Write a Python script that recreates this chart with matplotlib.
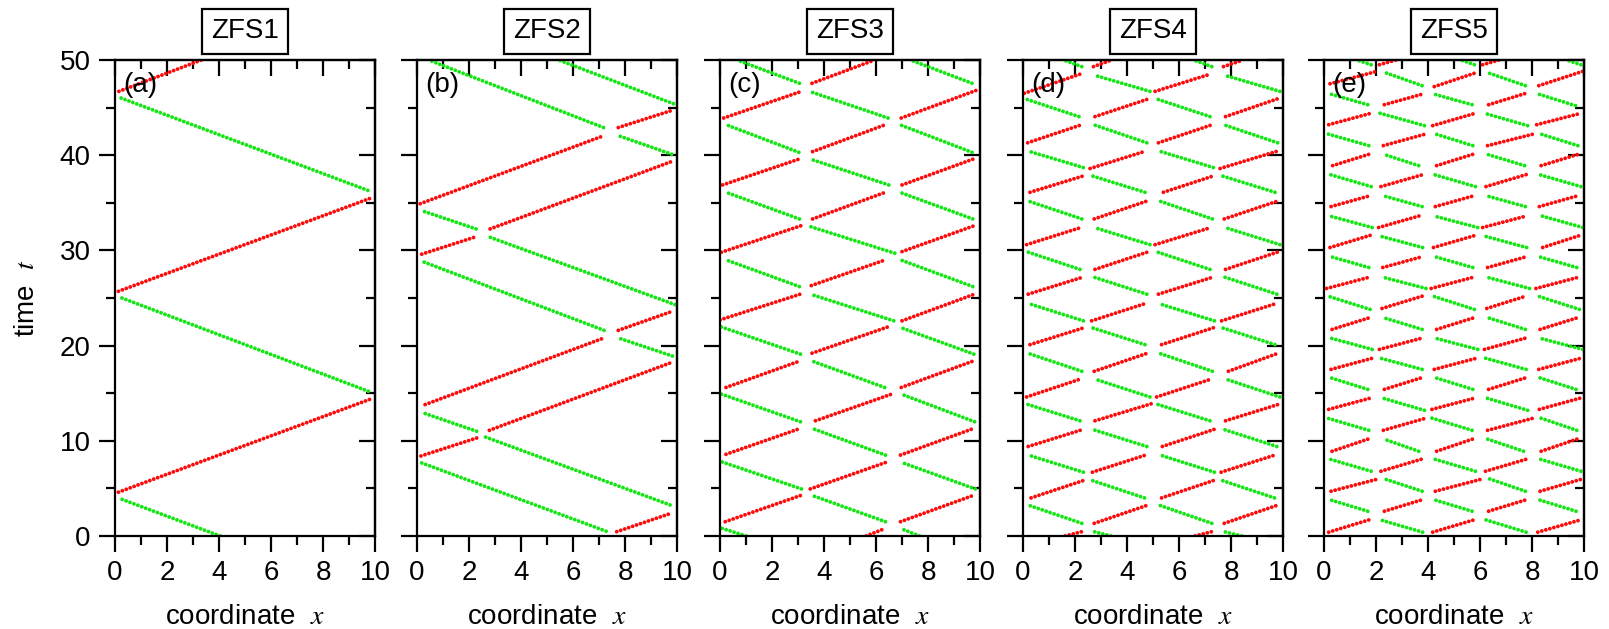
import matplotlib
matplotlib.use('Agg')
import matplotlib.pyplot as plt
from matplotlib.patches import Rectangle
from matplotlib.ticker import MultipleLocator

plt.rcParams['font.family'] = ['Liberation Sans', 'DejaVu Sans']
plt.rcParams['mathtext.fontset'] = 'stix'
plt.rcParams['lines.scale_dashes'] = False

# segments are (x_start, t_start, x_end, t_end); red = moving right, green = moving left
red_a = [(0.13, 4.6, 9.85, 14.4), (0.13, 25.7, 9.85, 35.5), (0.15, 46.7, 3.33, 50.0)]
green_a = [(4.04, 0.0, 0.26, 3.85), (9.74, 15.2, 0.26, 25.0), (9.72, 36.3, 0.23, 46.0)]

red_b = [
    (7.68, 0.45, 9.79, 2.4), (0.15, 8.4, 2.42, 10.4), (2.78, 11.1, 9.86, 18.3),
    (0.31, 13.8, 7.19, 20.8), (7.74, 21.6, 9.82, 23.6), (0.18, 29.6, 2.23, 31.4),
    (2.81, 32.25, 9.86, 39.4), (0.12, 34.9, 7.19, 42.05), (7.74, 42.9, 9.86, 44.75),
]
green_b = [
    (7.27, 0.5, 0.15, 7.7), (9.73, 3.26, 2.62, 10.4), (2.29, 11.0, 0.21, 12.95),
    (9.82, 18.9, 7.74, 20.8), (7.19, 21.6, 0.14, 28.9), (9.92, 24.3, 2.78, 31.4),
    (2.27, 32.25, 0.15, 34.2), (9.79, 40.1, 7.74, 42.05), (7.17, 42.9, 0.44, 50.0),
    (9.86, 45.4, 5.44, 50.0),
]

red_c = [
    (5.62, 0.0, 6.36, 0.8), (0.2, 1.5, 3.09, 4.24), (6.94, 1.5, 9.72, 4.24),
    (3.47, 4.94, 6.4, 7.75), (0.23, 8.58, 3.09, 11.3), (6.94, 8.5, 9.76, 11.3),
    (3.67, 12.1, 6.6, 14.9), (0.23, 15.6, 3.09, 18.4), (6.97, 15.6, 9.76, 18.4),
    (3.54, 19.2, 6.5, 22.0), (0.0, 22.7, 3.09, 25.4), (7.0, 22.6, 9.79, 25.4),
    (3.51, 26.3, 6.36, 29.0), (0.05, 29.8, 3.13, 32.6), (7.0, 29.87, 9.79, 32.6),
    (3.56, 33.3, 6.36, 36.1), (0.1, 36.87, 3.13, 39.67), (7.0, 36.87, 9.82, 39.67),
    (3.56, 40.37, 6.36, 43.2), (0.14, 43.9, 3.13, 46.7), (6.97, 43.9, 9.85, 46.8),
    (3.54, 47.55, 5.95, 50.0),
]
green_c = [
    (1.0, 0.0, 0.08, 0.8), (7.67, 0.0, 6.94, 0.8), (6.36, 1.5, 3.56, 4.24),
    (3.13, 4.94, 0.05, 7.8), (9.82, 4.94, 6.97, 7.74), (6.36, 8.5, 3.54, 11.3),
    (3.09, 12.0, 0.05, 14.9), (9.79, 12.0, 6.97, 14.9), (6.33, 15.6, 3.51, 18.4),
    (3.09, 19.1, 0.0, 22.0), (9.76, 19.1, 6.94, 21.9), (6.68, 22.6, 3.47, 25.4),
    (3.05, 26.2, 0.23, 29.0), (9.72, 26.2, 6.94, 29.0), (6.72, 29.7, 3.47, 32.5),
    (3.05, 33.3, 0.23, 36.1), (9.72, 33.3, 6.91, 36.1), (6.49, 36.87, 3.46, 39.6),
    (3.03, 40.3, 0.23, 43.2), (9.69, 40.3, 6.91, 43.2), (6.46, 43.9, 3.44, 46.7),
    (3.05, 47.55, 0.65, 50.0), (9.69, 47.55, 7.32, 50.0),
]

red_d = [
    (1.62, 0.0, 2.26, 0.45), (6.62, 0.0, 7.26, 0.45), (2.74, 1.33, 4.82, 3.26),
    (7.74, 1.33, 9.82, 3.26), (0.31, 4.0, 2.41, 5.9), (5.33, 4.0, 7.41, 5.9),
    (2.67, 6.7, 4.72, 8.5), (7.62, 6.7, 9.69, 8.5), (0.2, 9.4, 2.32, 11.2),
    (5.36, 9.4, 7.36, 11.2), (2.77, 12.1, 4.95, 13.9), (7.79, 12.1, 9.92, 13.9),
    (0.14, 14.6, 2.23, 16.5), (5.14, 14.6, 7.26, 16.5), (2.74, 17.3, 4.79, 19.2),
    (7.9, 17.3, 9.82, 19.2), (0.27, 20.1, 2.38, 21.9), (5.33, 20.1, 7.36, 21.9),
    (2.64, 22.6, 4.69, 24.4), (7.64, 22.6, 9.72, 24.4), (0.2, 25.4, 2.32, 27.2),
    (5.21, 25.4, 7.32, 27.2), (2.77, 28.0, 4.88, 29.9), (7.79, 28.0, 9.88, 29.9),
    (0.14, 30.6, 2.23, 32.4), (5.08, 30.6, 7.23, 32.4), (2.74, 33.3, 4.79, 35.2),
    (7.74, 33.3, 9.82, 35.2), (0.27, 36.1, 2.36, 37.85), (5.4, 36.1, 7.36, 37.85),
    (2.58, 38.6, 4.69, 40.4), (7.58, 38.6, 9.76, 40.4), (0.18, 41.3, 2.26, 43.2),
    (5.21, 41.3, 7.28, 43.2), (2.77, 44.05, 4.82, 45.9), (7.79, 44.05, 9.88, 46.0),
    (0.05, 46.5, 2.19, 48.5), (5.08, 46.7, 7.19, 48.5), (2.71, 49.3, 3.41, 50.0),
    (7.71, 49.3, 8.47, 50.0),
]
green_d = [
    (3.38, 0.0, 2.74, 0.45), (8.41, 0.0, 7.74, 0.45), (2.26, 1.33, 0.18, 3.26),
    (7.26, 1.33, 5.21, 3.26), (4.67, 4.0, 2.58, 5.9), (9.67, 4.0, 7.58, 5.9),
    (2.32, 6.7, 0.2, 8.5), (7.36, 6.7, 5.27, 8.5), (4.76, 9.4, 2.67, 11.2),
    (9.76, 9.4, 7.71, 11.2), (2.19, 12.1, 0.08, 13.9), (7.19, 12.1, 5.08, 13.9),
    (4.88, 14.6, 2.74, 16.5), (9.88, 14.6, 7.77, 16.5), (2.26, 17.3, 0.18, 19.2),
    (7.28, 17.3, 5.23, 19.2), (4.69, 20.1, 2.62, 21.9), (9.69, 20.1, 7.62, 21.9),
    (2.32, 22.6, 0.23, 24.4), (7.36, 22.6, 5.23, 24.4), (4.76, 25.4, 2.71, 27.2),
    (9.76, 25.4, 7.74, 27.2), (2.19, 28.0, 0.1, 29.9), (7.19, 28.0, 5.08, 29.9),
    (4.88, 30.6, 2.74, 32.4), (9.88, 30.6, 7.77, 32.4), (2.26, 33.3, 0.18, 35.2),
    (7.28, 33.3, 5.23, 35.2), (4.69, 36.1, 2.62, 37.85), (9.69, 36.1, 7.62, 37.85),
    (2.32, 38.7, 0.23, 40.4), (7.32, 38.7, 5.27, 40.4), (4.76, 41.3, 2.71, 43.2),
    (9.79, 41.3, 7.71, 43.2), (2.15, 44.05, 0.1, 45.9), (7.19, 44.05, 5.14, 45.9),
    (4.88, 46.7, 2.74, 48.4), (9.88, 46.7, 7.74, 48.4), (2.26, 49.3, 1.55, 50.0),
    (7.26, 49.3, 6.55, 50.0),
]

red_e = [
    (2.13, 49.5, 2.77, 50.0), (6.1, 49.5, 6.74, 50.0),
    (0.23, 47.5, 2.03, 48.8), (4.24, 47.2, 5.78, 48.6), (8.26, 47.3, 9.95, 48.8),
    (2.32, 45.3, 3.77, 46.4), (6.33, 45.3, 7.77, 46.5),
    (0.18, 43.2, 1.81, 44.4), (4.18, 43.1, 5.82, 44.4), (8.18, 43.2, 9.88, 44.4),
    (2.28, 41.0, 3.95, 42.25), (6.29, 41.0, 8.03, 42.2),
    (0.33, 38.9, 1.74, 40.1), (4.33, 38.9, 5.74, 40.1), (8.35, 38.9, 9.79, 40.1),
    (2.19, 36.7, 3.86, 38.0), (6.23, 36.7, 7.83, 38.0),
    (0.27, 34.6, 1.72, 35.7), (4.28, 34.6, 5.72, 35.7), (8.28, 34.6, 9.72, 35.7),
    (2.1, 32.4, 3.77, 33.7), (6.1, 32.4, 7.77, 33.6),
    (0.23, 30.3, 1.81, 31.6), (4.21, 30.3, 5.85, 31.6), (8.41, 30.3, 9.88, 31.6),
    (2.26, 28.2, 3.73, 29.3), (6.29, 28.2, 7.74, 29.3),
    (0.1, 26.0, 1.77, 27.2), (4.12, 26.0, 5.78, 27.2), (8.15, 26.0, 9.82, 27.2),
    (2.23, 23.9, 3.79, 25.2), (6.26, 23.9, 7.77, 25.2),
    (0.31, 21.7, 1.72, 22.9), (4.33, 21.7, 5.74, 22.9), (8.31, 21.7, 9.72, 22.9),
    (2.13, 19.6, 3.79, 20.8), (6.17, 19.6, 7.77, 20.8),
    (0.27, 17.5, 1.9, 18.7), (4.24, 17.5, 5.91, 18.7), (8.26, 17.5, 9.92, 18.7),
    (2.32, 15.4, 3.73, 16.6), (6.33, 15.4, 7.74, 16.6),
    (0.18, 13.3, 1.81, 14.5), (4.15, 13.3, 5.82, 14.5), (8.28, 13.3, 9.88, 14.5),
    (2.28, 11.1, 3.95, 12.4), (6.29, 11.1, 8.09, 12.4),
    (0.31, 8.9, 1.72, 10.2), (4.33, 8.9, 5.74, 10.2), (8.35, 8.9, 9.76, 10.2),
    (2.19, 6.8, 3.79, 8.1), (6.21, 6.8, 7.83, 8.1),
    (0.27, 4.7, 2.1, 6.0), (4.28, 4.7, 6.1, 6.0), (8.31, 4.7, 9.95, 6.0),
    (2.32, 2.6, 3.77, 3.8), (6.33, 2.6, 7.77, 3.8),
    (0.18, 0.4, 1.74, 1.7), (4.18, 0.4, 5.78, 1.7), (8.22, 0.4, 9.88, 1.7),
]
green_e = [
    (1.81, 49.5, 1.26, 50.0), (5.78, 49.5, 5.27, 50.0), (9.88, 49.5, 9.31, 50.0),
    (3.77, 47.3, 2.32, 48.7), (7.74, 47.3, 6.36, 48.6),
    (1.68, 45.3, 0.27, 46.4), (5.69, 45.3, 4.24, 46.4), (9.67, 45.2, 8.26, 46.4),
    (3.86, 43.1, 2.15, 44.4), (7.83, 43.1, 6.17, 44.4),
    (1.72, 41.0, 0.05, 42.3), (5.72, 41.0, 4.25, 42.25), (9.76, 41.0, 8.35, 42.2),
    (3.64, 38.9, 2.28, 40.1), (7.71, 38.9, 6.26, 40.1),
    (1.81, 36.7, 0.18, 38.0), (5.82, 36.7, 4.18, 38.0), (9.88, 36.7, 8.22, 38.0),
    (3.77, 34.6, 2.32, 35.7), (7.74, 34.6, 6.29, 35.7),
    (1.85, 32.4, 0.23, 33.6), (5.91, 32.4, 4.24, 33.6), (9.95, 32.4, 8.26, 33.7),
    (3.79, 30.3, 2.15, 31.5), (7.79, 30.3, 6.17, 31.5),
    (1.72, 28.2, 0.31, 29.3), (5.72, 28.2, 4.31, 29.3), (9.72, 28.2, 8.31, 29.3),
    (3.92, 26.0, 2.23, 27.2), (7.9, 26.0, 6.23, 27.2),
    (1.77, 23.8, 0.14, 25.2), (5.78, 23.8, 4.18, 25.2), (9.82, 23.8, 8.22, 25.2),
    (3.77, 21.7, 2.32, 22.9), (7.74, 21.7, 6.33, 22.9),
    (1.85, 19.6, 0.23, 20.8), (5.91, 19.6, 4.24, 20.8), (9.95, 19.6, 8.26, 20.8),
    (3.77, 17.5, 2.13, 18.7), (7.77, 17.5, 6.17, 18.7),
    (1.68, 15.4, 0.27, 16.6), (5.72, 15.4, 4.31, 16.6), (9.69, 15.4, 8.31, 16.6),
    (3.86, 13.2, 2.23, 14.5), (7.83, 13.2, 6.23, 14.5),
    (1.72, 11.1, 0.1, 12.4), (5.69, 11.1, 4.12, 12.4), (9.72, 11.1, 8.31, 12.4),
    (3.64, 8.9, 2.28, 10.2), (7.67, 8.9, 6.26, 10.2),
    (1.81, 6.8, 0.18, 8.1), (5.82, 6.8, 4.21, 8.1), (9.88, 6.8, 8.26, 8.1),
    (3.77, 4.7, 2.32, 6.0), (7.74, 4.7, 6.36, 6.0),
    (1.68, 2.6, 0.23, 3.8), (5.69, 2.6, 4.24, 3.8), (9.69, 2.6, 8.26, 3.8),
    (3.79, 0.4, 2.15, 1.7), (7.77, 0.4, 6.21, 1.7),
]

titles = ['ZFS1', 'ZFS2', 'ZFS3', 'ZFS4', 'ZFS5']
letters = ['(a)', '(b)', '(c)', '(d)', '(e)']
reds = [red_a, red_b, red_c, red_d, red_e]
greens = [green_a, green_b, green_c, green_d, green_e]

RED = '#ff0a0a'
GREEN = '#14e614'
dots = (0, (0.01, 3.0))

fig = plt.figure(figsize=(16.09, 6.29), dpi=100)
lefts = [0.0715, 0.2592, 0.4475, 0.6358, 0.8229]

for i in range(5):
    ax = fig.add_axes([lefts[i], 0.1479, 0.1616, 0.7568])
    for segs, col in ((greens[i], GREEN), (reds[i], RED)):
        for x0, t0, x1, t1 in segs:
            ax.plot([x0, x1], [t0, t1], color=col, lw=2.8, ls=dots,
                    dash_capstyle='round')

    ax.set_xlim(0, 10)
    ax.set_ylim(0, 50)
    ax.xaxis.set_major_locator(MultipleLocator(2))
    ax.xaxis.set_minor_locator(MultipleLocator(1))
    ax.yaxis.set_major_locator(MultipleLocator(10))
    ax.yaxis.set_minor_locator(MultipleLocator(5))
    ax.tick_params(which='both', direction='out', width=1.6, labelsize=20,
                   top=False, right=False, pad=6)
    ax.tick_params(which='major', length=11.5)
    ax.tick_params(which='minor', length=6.5)
    ax.tick_params(axis='y', labelleft=(i == 0))
    for sp in ax.spines.values():
        sp.set_linewidth(1.6)

    # inward ticks on the top and right edges
    top = ax.secondary_xaxis('top')
    top.xaxis.set_major_locator(MultipleLocator(2))
    top.xaxis.set_minor_locator(MultipleLocator(1))
    top.tick_params(which='both', direction='in', width=1.6, labeltop=False)
    top.tick_params(which='major', length=11.5)
    top.tick_params(which='minor', length=6.5)
    top.spines['top'].set_linewidth(1.6)
    right = ax.secondary_yaxis('right')
    right.yaxis.set_major_locator(MultipleLocator(10))
    right.yaxis.set_minor_locator(MultipleLocator(5))
    right.tick_params(which='both', direction='in', width=1.6, labelright=False)
    right.tick_params(which='major', length=11.5)
    right.tick_params(which='minor', length=6.5)
    right.spines['right'].set_linewidth(1.6)

    ax.set_xlabel('coordinate  $x$', fontsize=20, labelpad=13)
    if i == 0:
        ax.set_ylabel('time  $t$', fontsize=20, labelpad=14)

    ax.text(0.03, 0.975, letters[i], transform=ax.transAxes, fontsize=20,
            ha='left', va='top')

    # boxed panel title above the axes
    ax.add_patch(Rectangle((0.5 - 0.164, 1.0126), 0.328, 0.0945,
                           transform=ax.transAxes, clip_on=False,
                           fc='white', ec='black', lw=1.6))
    ax.text(0.5, 1.06, titles[i], transform=ax.transAxes, fontsize=20,
            ha='center', va='center')

fig.savefig('out.png', dpi=100)
